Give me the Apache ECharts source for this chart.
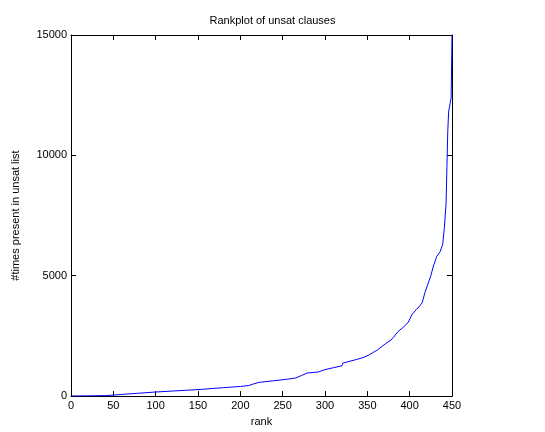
<!DOCTYPE html>
<html>
<head>
<meta charset="utf-8">
<script src="https://cdn.jsdelivr.net/npm/echarts@6/dist/echarts.min.js"></script>
<style>html,body{margin:0;padding:0;background:#fff;}#c{width:545px;height:432px;}</style>
</head>
<body>
<div id="c"></div>
<script>
const titleText = "Rankplot of unsat clauses";
const xName = "rank";
const yName = "#times present in unsat list";
const ranks = [1, 20, 40, 50, 60, 80, 100, 120, 150, 180, 200, 210, 215, 222, 240, 255, 265, 272, 279, 292, 300, 310, 320, 321, 336, 345, 352, 362, 372, 378, 381, 386, 392, 398, 403, 408, 412, 415, 418, 421, 425, 428, 432, 436, 439, 441, 443, 444, 445, 446, 447, 448, 449, 450];
const counts = [5, 10, 20, 40, 70, 120, 170, 210, 270, 350, 400, 440, 500, 570, 640, 700, 750, 850, 960, 1000, 1100, 1180, 1260, 1370, 1510, 1600, 1710, 1920, 2190, 2330, 2450, 2670, 2850, 3050, 3400, 3600, 3750, 3900, 4300, 4600, 5000, 5400, 5800, 6000, 6300, 7000, 8000, 9500, 11000, 11800, 12000, 12200, 12400, 15000];
const xTicks = {min: 0, max: 450, interval: 50};
const yTicks = {min: 0, max: 15000, interval: 5000};

const chart = echarts.init(document.getElementById('c'), null, {renderer: 'canvas'});
const font = 'Liberation Sans, Arial, sans-serif';
const axisLine = {show: true, onZero: false, lineStyle: {color: '#000', width: 1}};
const tick = {show: true, inside: true, length: 5, lineStyle: {color: '#000'}};
const plain = v => String(v);
chart.setOption({
  animation: false,
  backgroundColor: '#fff',
  title: {text: titleText, left: 'center', top: 10, textStyle: {fontFamily: font, fontSize: 11, fontWeight: 'normal', color: '#000'}},
  grid: {left: 71, right: 93, top: 35, bottom: 32, containLabel: false},
  xAxis: [
    {type: 'value', position: 'bottom', min: xTicks.min, max: xTicks.max, interval: xTicks.interval,
     name: xName, nameLocation: 'middle', nameGap: 9, nameTextStyle: {fontFamily: font, fontSize: 11, color: '#000'},
     axisLine: axisLine, axisTick: tick, splitLine: {show: false},
     axisLabel: {fontFamily: font, fontSize: 11, color: '#000', margin: 4, formatter: plain}},
    {type: 'value', position: 'top', min: xTicks.min, max: xTicks.max, interval: xTicks.interval,
     axisLine: axisLine, axisTick: tick, splitLine: {show: false}, axisLabel: {show: false}}
  ],
  yAxis: [
    {type: 'value', position: 'left', min: yTicks.min, max: yTicks.max, interval: yTicks.interval,
     name: yName, nameLocation: 'middle', nameGap: 50, nameRotate: 90, nameTextStyle: {fontFamily: font, fontSize: 11, color: '#000'},
     axisLine: axisLine, axisTick: tick, splitLine: {show: false},
     axisLabel: {fontFamily: font, fontSize: 11, color: '#000', margin: 4, formatter: plain}},
    {type: 'value', position: 'right', min: yTicks.min, max: yTicks.max, interval: yTicks.interval,
     axisLine: axisLine, axisTick: tick, splitLine: {show: false}, axisLabel: {show: false}}
  ],
  series: [{
    type: 'line', xAxisIndex: 0, yAxisIndex: 0, showSymbol: false, symbol: 'none',
    lineStyle: {color: '#0000ff', width: 1}, clip: true,
    data: ranks.map((r, i) => [r, counts[i]])
  }]
});
</script>
</body>
</html>
